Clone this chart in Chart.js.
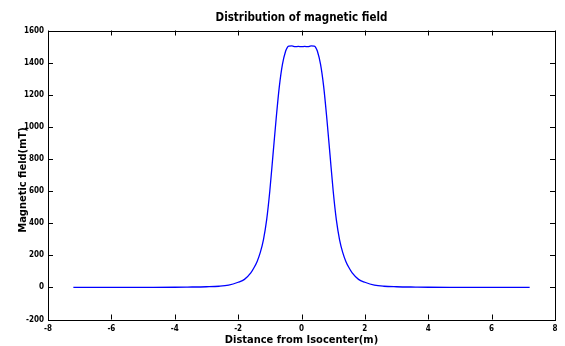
<!DOCTYPE html>
<html>
<head>
<meta charset="utf-8">
<script src="https://cdn.jsdelivr.net/npm/chart.js@4/dist/chart.umd.min.js"></script>
<style>
    html, body { margin: 0; padding: 0; background: #fff; }
    #wrap { width: 565px; height: 346px; }
</style>
</head>
<body>
<div id="wrap"><canvas id="chart" width="565" height="346"></canvas></div>
<script>
// distance from isocenter (m)
const distances = [-7.2, -6, -5, -4, -3.6, -3, -2.6, -2.3, -2.0, -1.8, -1.6, -1.5, -1.4, -1.3, -1.2, -1.1, -1.0, -0.9, -0.8, -0.7, -0.6, -0.5, -0.45, -0.4, -0.3, -0.2, -0.1, 0,
    0.1, 0.2, 0.3, 0.4, 0.45, 0.5, 0.6, 0.7, 0.8, 0.9, 1.0, 1.1, 1.2, 1.3, 1.4, 1.5, 1.6, 1.8, 2.0, 2.3, 2.6, 3, 3.6, 4, 5, 6, 7.2];
// magnetic field (mT)
const fieldValues = [0, 0, 0.5, 1, 2, 4, 7, 14, 32, 50, 90, 122, 162, 218, 298, 420, 600, 825, 1050, 1250, 1390, 1472, 1494, 1502, 1504, 1499, 1501, 1499,
    1501, 1499, 1504, 1502, 1494, 1472, 1390, 1250, 1050, 825, 600, 420, 298, 218, 162, 122, 90, 50, 32, 14, 7, 4, 2, 1, 0.5, 0, 0];

const xTicks = [-8, -6, -4, -2, 0, 2, 4, 6, 8];
const yTicks = [-200, 0, 200, 400, 600, 800, 1000, 1200, 1400, 1600];

const titleText = 'Distribution of magnetic field';
const xTitle = 'Distance from Isocenter(m)';
const yTitle = 'Magnetic field(mT)';

const FONT = '"Liberation Sans Narrow", "DejaVu Sans Condensed", "Liberation Sans", Arial, sans-serif';

// matlab style box with inward ticks on all four sides
const matlabBox = {
    id: 'matlabBox',
    afterDraw(chart) {
        const {ctx, chartArea: a, scales: {x, y}} = chart;
        ctx.save();
        ctx.strokeStyle = '#000';
        ctx.lineWidth = 1;
        ctx.strokeRect(Math.round(a.left) + 0.5, Math.round(a.top) + 0.5, Math.round(a.right - a.left), Math.round(a.bottom - a.top));
        ctx.beginPath();
        for (let t of x.ticks) {
            let px = Math.round(x.getPixelForValue(t.value)) + 0.5;
            ctx.moveTo(px, a.bottom); ctx.lineTo(px, a.bottom - 5);
            ctx.moveTo(px, a.top); ctx.lineTo(px, a.top + 5);
        }
        for (let t of y.ticks) {
            let py = Math.round(y.getPixelForValue(t.value)) + 0.5;
            ctx.moveTo(a.left, py); ctx.lineTo(a.left + 5, py);
            ctx.moveTo(a.right, py); ctx.lineTo(a.right - 5, py);
        }
        ctx.stroke();

        // y axis label sits a bit below the middle in the original
        ctx.translate(23, 180);
        ctx.rotate(-Math.PI / 2);
        ctx.fillStyle = '#000';
        ctx.font = 'bold 11px ' + FONT;
        ctx.textAlign = 'center';
        ctx.textBaseline = 'middle';
        ctx.fillText(yTitle, 0, 0);
        ctx.restore();
    }
};

const points = distances.map((d, i) => ({x: d, y: fieldValues[i]}));

new Chart(document.getElementById('chart'), {
    type: 'line',
    data: {
        datasets: [{
            data: points,
            borderColor: '#0000ff',
            borderWidth: 1.3,
            pointRadius: 0,
            cubicInterpolationMode: 'monotone',
            fill: false
        }]
    },
    options: {
        responsive: false,
        animation: false,
        layout: {padding: {left: 0, right: 10, top: 0, bottom: 0}},
        plugins: {
            legend: {display: false},
            tooltip: {enabled: false},
            title: {
                display: true,
                text: titleText,
                fullSize: false,
                color: '#000',
                font: {family: FONT, size: 11.5, weight: 'bold', lineHeight: 1.2},
                padding: {top: 11.1, bottom: 5.6}
            }
        },
        scales: {
            x: {
                type: 'linear',
                min: -8,
                max: 8,
                afterBuildTicks(scale) { scale.ticks = xTicks.map(v => ({value: v})); },
                afterFit(scale) { scale.height = 26.5; },
                grid: {display: false, drawTicks: false},
                border: {display: false},
                ticks: {color: '#000', padding: 5, font: {family: FONT, size: 8, weight: 'bold'},
                    callback: v => String(v)},
                title: {display: true, text: xTitle, color: '#000', padding: {top: 0, bottom: 0.5},
                    font: {family: FONT, size: 11, weight: 'bold', lineHeight: 1}}
            },
            y: {
                type: 'linear',
                min: -200,
                max: 1600,
                afterBuildTicks(scale) { scale.ticks = yTicks.map(v => ({value: v})); },
                afterFit(scale) { scale.width = 48; },
                grid: {display: false, drawTicks: false},
                border: {display: false},
                ticks: {color: '#000', padding: 4, font: {family: FONT, size: 8, weight: 'bold'},
                    callback: v => String(v)},
                title: {display: false}
            }
        }
    },
    plugins: [matlabBox]
});
</script>
</body>
</html>
